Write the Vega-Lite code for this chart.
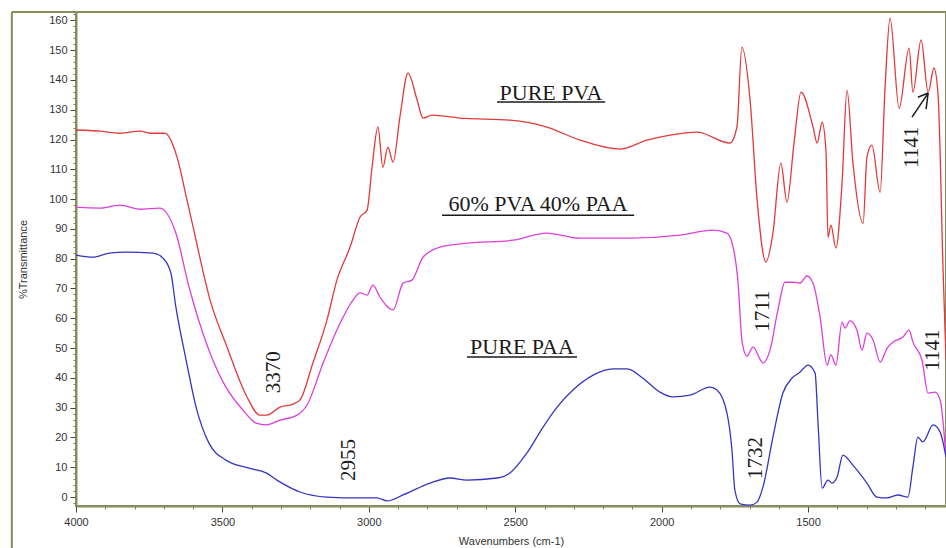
{
  "$schema": "https://vega.github.io/schema/vega-lite/v6.json",
  "width": 870,
  "height": 494,
  "autosize": "none",
  "padding": {"left": 76, "top": 12, "right": 0, "bottom": 42},
  "background": "white",
  "config": {
    "view": {"stroke": "#888c5e", "strokeWidth": 2},
    "axis": {"grid": false, "labelFont": "Liberation Sans", "titleFont": "Liberation Sans", "labelColor": "#333333", "titleColor": "#333333", "titleFontWeight": "normal", "labelFontSize": 11, "titleFontSize": 11, "domainColor": "#888c5e", "domainWidth": 2, "labelOverlap": false}
  },
  "datasets": {
    "spectra": [
      {"series": "PURE PVA", "wn": 4000, "T": 123.2}, {"series": "PURE PVA", "wn": 3918, "T": 122.8}, {"series": "PURE PVA", "wn": 3850, "T": 122.1}, {"series": "PURE PVA", "wn": 3781, "T": 122.8}, {"series": "PURE PVA", "wn": 3747, "T": 122.1}, {"series": "PURE PVA", "wn": 3696, "T": 122.1},
      {"series": "PURE PVA", "wn": 3655, "T": 114.1}, {"series": "PURE PVA", "wn": 3621, "T": 99.7}, {"series": "PURE PVA", "wn": 3600, "T": 90.6}, {"series": "PURE PVA", "wn": 3542, "T": 66.1}, {"series": "PURE PVA", "wn": 3484, "T": 50.3}, {"series": "PURE PVA", "wn": 3416, "T": 33.6},
      {"series": "PURE PVA", "wn": 3372, "T": 27.5}, {"series": "PURE PVA", "wn": 3348, "T": 27.5}, {"series": "PURE PVA", "wn": 3303, "T": 30.2}, {"series": "PURE PVA", "wn": 3259, "T": 31.2}, {"series": "PURE PVA", "wn": 3235, "T": 32.6}, {"series": "PURE PVA", "wn": 3191, "T": 45.0},
      {"series": "PURE PVA", "wn": 3143, "T": 59.4}, {"series": "PURE PVA", "wn": 3109, "T": 72.8}, {"series": "PURE PVA", "wn": 3064, "T": 83.9}, {"series": "PURE PVA", "wn": 3030, "T": 94.0}, {"series": "PURE PVA", "wn": 3006, "T": 96.3}, {"series": "PURE PVA", "wn": 2989, "T": 110.7},
      {"series": "PURE PVA", "wn": 2969, "T": 124.2}, {"series": "PURE PVA", "wn": 2952, "T": 110.7}, {"series": "PURE PVA", "wn": 2935, "T": 117.4}, {"series": "PURE PVA", "wn": 2917, "T": 112.4}, {"series": "PURE PVA", "wn": 2894, "T": 127.5}, {"series": "PURE PVA", "wn": 2866, "T": 142.3},
      {"series": "PURE PVA", "wn": 2835, "T": 133.2}, {"series": "PURE PVA", "wn": 2815, "T": 127.2}, {"series": "PURE PVA", "wn": 2784, "T": 128.2}, {"series": "PURE PVA", "wn": 2689, "T": 127.2}, {"series": "PURE PVA", "wn": 2518, "T": 126.5}, {"series": "PURE PVA", "wn": 2392, "T": 124.2},
      {"series": "PURE PVA", "wn": 2279, "T": 119.8}, {"series": "PURE PVA", "wn": 2142, "T": 116.8}, {"series": "PURE PVA", "wn": 2050, "T": 119.8}, {"series": "PURE PVA", "wn": 1971, "T": 121.5}, {"series": "PURE PVA", "wn": 1879, "T": 122.5}, {"series": "PURE PVA", "wn": 1767, "T": 118.8},
      {"series": "PURE PVA", "wn": 1743, "T": 124.2}, {"series": "PURE PVA", "wn": 1726, "T": 151.0}, {"series": "PURE PVA", "wn": 1698, "T": 133.2}, {"series": "PURE PVA", "wn": 1674, "T": 99.7}, {"series": "PURE PVA", "wn": 1644, "T": 78.9}, {"series": "PURE PVA", "wn": 1620, "T": 88.6},
      {"series": "PURE PVA", "wn": 1593, "T": 112.1}, {"series": "PURE PVA", "wn": 1572, "T": 99.0}, {"series": "PURE PVA", "wn": 1548, "T": 118.8}, {"series": "PURE PVA", "wn": 1524, "T": 135.9}, {"series": "PURE PVA", "wn": 1483, "T": 124.2}, {"series": "PURE PVA", "wn": 1469, "T": 118.8},
      {"series": "PURE PVA", "wn": 1452, "T": 125.8}, {"series": "PURE PVA", "wn": 1439, "T": 116.4}, {"series": "PURE PVA", "wn": 1432, "T": 87.2}, {"series": "PURE PVA", "wn": 1422, "T": 91.3}, {"series": "PURE PVA", "wn": 1405, "T": 83.6}, {"series": "PURE PVA", "wn": 1384, "T": 105.4},
      {"series": "PURE PVA", "wn": 1367, "T": 136.6}, {"series": "PURE PVA", "wn": 1347, "T": 112.4}, {"series": "PURE PVA", "wn": 1312, "T": 91.9}, {"series": "PURE PVA", "wn": 1299, "T": 114.1}, {"series": "PURE PVA", "wn": 1282, "T": 118.1}, {"series": "PURE PVA", "wn": 1254, "T": 102.3},
      {"series": "PURE PVA", "wn": 1237, "T": 137.6}, {"series": "PURE PVA", "wn": 1220, "T": 160.7}, {"series": "PURE PVA", "wn": 1189, "T": 130.5}, {"series": "PURE PVA", "wn": 1155, "T": 150.7}, {"series": "PURE PVA", "wn": 1142, "T": 135.9}, {"series": "PURE PVA", "wn": 1114, "T": 153.4},
      {"series": "PURE PVA", "wn": 1090, "T": 135.9}, {"series": "PURE PVA", "wn": 1070, "T": 144.0}, {"series": "PURE PVA", "wn": 1056, "T": 134.9}, {"series": "PURE PVA", "wn": 1039, "T": 76.2}, {"series": "PURE PVA", "wn": 1029, "T": 46.0},

      {"series": "60% PVA 40% PAA", "wn": 4000, "T": 97.3}, {"series": "60% PVA 40% PAA", "wn": 3918, "T": 97.0}, {"series": "60% PVA 40% PAA", "wn": 3850, "T": 98.0}, {"series": "60% PVA 40% PAA", "wn": 3781, "T": 96.6}, {"series": "60% PVA 40% PAA", "wn": 3713, "T": 97.0}, {"series": "60% PVA 40% PAA", "wn": 3699, "T": 96.3},
      {"series": "60% PVA 40% PAA", "wn": 3659, "T": 88.6}, {"series": "60% PVA 40% PAA", "wn": 3614, "T": 70.5}, {"series": "60% PVA 40% PAA", "wn": 3546, "T": 49.3}, {"series": "60% PVA 40% PAA", "wn": 3488, "T": 36.9}, {"series": "60% PVA 40% PAA", "wn": 3430, "T": 29.2}, {"series": "60% PVA 40% PAA", "wn": 3385, "T": 24.8},
      {"series": "60% PVA 40% PAA", "wn": 3351, "T": 24.2}, {"series": "60% PVA 40% PAA", "wn": 3303, "T": 25.8}, {"series": "60% PVA 40% PAA", "wn": 3245, "T": 27.5}, {"series": "60% PVA 40% PAA", "wn": 3211, "T": 30.9}, {"series": "60% PVA 40% PAA", "wn": 3156, "T": 45.0}, {"series": "60% PVA 40% PAA", "wn": 3098, "T": 58.4},
      {"series": "60% PVA 40% PAA", "wn": 3054, "T": 66.1}, {"series": "60% PVA 40% PAA", "wn": 3030, "T": 68.5}, {"series": "60% PVA 40% PAA", "wn": 3006, "T": 67.8}, {"series": "60% PVA 40% PAA", "wn": 2986, "T": 71.1}, {"series": "60% PVA 40% PAA", "wn": 2962, "T": 67.1}, {"series": "60% PVA 40% PAA", "wn": 2917, "T": 62.8},
      {"series": "60% PVA 40% PAA", "wn": 2883, "T": 71.8}, {"series": "60% PVA 40% PAA", "wn": 2853, "T": 72.8}, {"series": "60% PVA 40% PAA", "wn": 2815, "T": 80.5}, {"series": "60% PVA 40% PAA", "wn": 2757, "T": 83.9}, {"series": "60% PVA 40% PAA", "wn": 2665, "T": 85.2}, {"series": "60% PVA 40% PAA", "wn": 2508, "T": 86.2},
      {"series": "60% PVA 40% PAA", "wn": 2392, "T": 88.6}, {"series": "60% PVA 40% PAA", "wn": 2279, "T": 86.9}, {"series": "60% PVA 40% PAA", "wn": 2108, "T": 86.9}, {"series": "60% PVA 40% PAA", "wn": 1937, "T": 87.9}, {"series": "60% PVA 40% PAA", "wn": 1825, "T": 89.6}, {"series": "60% PVA 40% PAA", "wn": 1777, "T": 88.6},
      {"series": "60% PVA 40% PAA", "wn": 1756, "T": 83.9}, {"series": "60% PVA 40% PAA", "wn": 1739, "T": 71.8}, {"series": "60% PVA 40% PAA", "wn": 1726, "T": 52.7}, {"series": "60% PVA 40% PAA", "wn": 1709, "T": 47.3}, {"series": "60% PVA 40% PAA", "wn": 1688, "T": 50.3}, {"series": "60% PVA 40% PAA", "wn": 1654, "T": 45.0},
      {"series": "60% PVA 40% PAA", "wn": 1630, "T": 49.3}, {"series": "60% PVA 40% PAA", "wn": 1603, "T": 62.8}, {"series": "60% PVA 40% PAA", "wn": 1579, "T": 72.1}, {"series": "60% PVA 40% PAA", "wn": 1551, "T": 72.1}, {"series": "60% PVA 40% PAA", "wn": 1528, "T": 71.8}, {"series": "60% PVA 40% PAA", "wn": 1504, "T": 74.2},
      {"series": "60% PVA 40% PAA", "wn": 1483, "T": 71.8}, {"series": "60% PVA 40% PAA", "wn": 1459, "T": 60.4}, {"series": "60% PVA 40% PAA", "wn": 1435, "T": 44.3}, {"series": "60% PVA 40% PAA", "wn": 1422, "T": 47.7}, {"series": "60% PVA 40% PAA", "wn": 1405, "T": 44.3}, {"series": "60% PVA 40% PAA", "wn": 1384, "T": 58.7},
      {"series": "60% PVA 40% PAA", "wn": 1374, "T": 56.7}, {"series": "60% PVA 40% PAA", "wn": 1357, "T": 59.1}, {"series": "60% PVA 40% PAA", "wn": 1333, "T": 56.0}, {"series": "60% PVA 40% PAA", "wn": 1316, "T": 49.3}, {"series": "60% PVA 40% PAA", "wn": 1299, "T": 55.0}, {"series": "60% PVA 40% PAA", "wn": 1278, "T": 52.7},
      {"series": "60% PVA 40% PAA", "wn": 1254, "T": 45.3}, {"series": "60% PVA 40% PAA", "wn": 1230, "T": 50.0}, {"series": "60% PVA 40% PAA", "wn": 1210, "T": 52.0}, {"series": "60% PVA 40% PAA", "wn": 1176, "T": 53.7}, {"series": "60% PVA 40% PAA", "wn": 1155, "T": 56.0}, {"series": "60% PVA 40% PAA", "wn": 1142, "T": 52.0},
      {"series": "60% PVA 40% PAA", "wn": 1111, "T": 46.0}, {"series": "60% PVA 40% PAA", "wn": 1090, "T": 34.9}, {"series": "60% PVA 40% PAA", "wn": 1067, "T": 35.2}, {"series": "60% PVA 40% PAA", "wn": 1049, "T": 32.6}, {"series": "60% PVA 40% PAA", "wn": 1029, "T": 13.4},

      {"series": "PURE PAA", "wn": 4000, "T": 81.2}, {"series": "PURE PAA", "wn": 3942, "T": 80.5}, {"series": "PURE PAA", "wn": 3887, "T": 81.9}, {"series": "PURE PAA", "wn": 3829, "T": 82.2}, {"series": "PURE PAA", "wn": 3737, "T": 81.9}, {"series": "PURE PAA", "wn": 3703, "T": 80.2},
      {"series": "PURE PAA", "wn": 3676, "T": 75.2}, {"series": "PURE PAA", "wn": 3659, "T": 63.8}, {"series": "PURE PAA", "wn": 3624, "T": 46.0}, {"series": "PURE PAA", "wn": 3590, "T": 30.2}, {"series": "PURE PAA", "wn": 3546, "T": 18.1}, {"series": "PURE PAA", "wn": 3488, "T": 12.4},
      {"series": "PURE PAA", "wn": 3409, "T": 9.7}, {"series": "PURE PAA", "wn": 3351, "T": 8.1}, {"series": "PURE PAA", "wn": 3314, "T": 5.7}, {"series": "PURE PAA", "wn": 3235, "T": 1.7}, {"series": "PURE PAA", "wn": 3143, "T": 0.0}, {"series": "PURE PAA", "wn": 3030, "T": -0.3},
      {"series": "PURE PAA", "wn": 2972, "T": -0.3}, {"series": "PURE PAA", "wn": 2938, "T": -1.3}, {"series": "PURE PAA", "wn": 2883, "T": 0.7}, {"series": "PURE PAA", "wn": 2791, "T": 4.7}, {"series": "PURE PAA", "wn": 2723, "T": 6.4}, {"series": "PURE PAA", "wn": 2665, "T": 5.7},
      {"series": "PURE PAA", "wn": 2562, "T": 6.4}, {"series": "PURE PAA", "wn": 2518, "T": 8.1}, {"series": "PURE PAA", "wn": 2460, "T": 14.8}, {"series": "PURE PAA", "wn": 2405, "T": 23.5}, {"series": "PURE PAA", "wn": 2357, "T": 30.2}, {"series": "PURE PAA", "wn": 2303, "T": 35.9},
      {"series": "PURE PAA", "wn": 2234, "T": 40.9}, {"series": "PURE PAA", "wn": 2166, "T": 43.0}, {"series": "PURE PAA", "wn": 2118, "T": 43.0}, {"series": "PURE PAA", "wn": 2064, "T": 39.9}, {"series": "PURE PAA", "wn": 2006, "T": 35.2}, {"series": "PURE PAA", "wn": 1961, "T": 33.6},
      {"series": "PURE PAA", "wn": 1903, "T": 34.2}, {"series": "PURE PAA", "wn": 1835, "T": 36.9}, {"series": "PURE PAA", "wn": 1811, "T": 35.9}, {"series": "PURE PAA", "wn": 1777, "T": 28.2}, {"series": "PURE PAA", "wn": 1760, "T": 15.8}, {"series": "PURE PAA", "wn": 1750, "T": 2.3},
      {"series": "PURE PAA", "wn": 1732, "T": -2.3}, {"series": "PURE PAA", "wn": 1698, "T": -2.7}, {"series": "PURE PAA", "wn": 1674, "T": -1.7}, {"series": "PURE PAA", "wn": 1654, "T": 3.4}, {"series": "PURE PAA", "wn": 1620, "T": 20.1}, {"series": "PURE PAA", "wn": 1586, "T": 34.9},
      {"series": "PURE PAA", "wn": 1555, "T": 39.9}, {"series": "PURE PAA", "wn": 1528, "T": 41.9}, {"series": "PURE PAA", "wn": 1500, "T": 44.3}, {"series": "PURE PAA", "wn": 1476, "T": 41.6}, {"series": "PURE PAA", "wn": 1466, "T": 24.8}, {"series": "PURE PAA", "wn": 1452, "T": 3.0},
      {"series": "PURE PAA", "wn": 1432, "T": 5.7}, {"series": "PURE PAA", "wn": 1418, "T": 4.7}, {"series": "PURE PAA", "wn": 1401, "T": 6.7}, {"series": "PURE PAA", "wn": 1381, "T": 14.1}, {"series": "PURE PAA", "wn": 1347, "T": 10.7}, {"series": "PURE PAA", "wn": 1299, "T": 4.7},
      {"series": "PURE PAA", "wn": 1265, "T": 0.0}, {"series": "PURE PAA", "wn": 1230, "T": -0.3}, {"series": "PURE PAA", "wn": 1193, "T": 0.7}, {"series": "PURE PAA", "wn": 1159, "T": 0.0}, {"series": "PURE PAA", "wn": 1142, "T": 10.1}, {"series": "PURE PAA", "wn": 1125, "T": 20.1},
      {"series": "PURE PAA", "wn": 1108, "T": 18.5}, {"series": "PURE PAA", "wn": 1073, "T": 24.2}, {"series": "PURE PAA", "wn": 1049, "T": 21.8}, {"series": "PURE PAA", "wn": 1029, "T": 13.4}
    ],
    "titles": [
      {"label": "PURE PVA", "wn": 2378, "T": 135.7, "wn2": 2562, "wn3": 2193, "T2": 132.6},
      {"label": "60% PVA 40% PAA", "wn": 2422, "T": 98.3, "wn2": 2750, "wn3": 2094, "T2": 94.6},
      {"label": "PURE PAA", "wn": 2477, "T": 50.3, "wn2": 2665, "wn3": 2289, "T2": 47.0}
    ],
    "peaks": [
      {"label": "3370", "wn": 3324, "T": 41.9},
      {"label": "2955", "wn": 3068, "T": 12.4},
      {"label": "1711", "wn": 1654, "T": 62.4},
      {"label": "1732", "wn": 1678, "T": 13.1},
      {"label": "1141", "wn": 1145, "T": 117.4},
      {"label": "1141", "wn": 1073, "T": 49.3}
    ],
    "arrow": [
      {"wn": 1145, "T": 127.5, "wn2": 1090, "T2": 135.6},
      {"wn": 1125, "T": 134.2, "wn2": 1090, "T2": 135.6},
      {"wn": 1097, "T": 130.2, "wn2": 1090, "T2": 135.6}
    ],
    "border": [
      {"wn": 4219, "T": 162.8, "wn2": 4000, "T2": 162.8},
      {"wn": 4219, "T": 162.8, "wn2": 4219, "T2": -17.1}
    ]
  },
  "layer": [
    {
      "data": {"name": "spectra"},
      "mark": {"type": "line", "strokeWidth": 1.3, "clip": true, "interpolate": "monotone"},
      "encoding": {
        "x": {"field": "wn", "type": "quantitative", "scale": {"domain": [4000, 1029], "nice": false, "zero": false},
              "axis": {"orient": "bottom", "format": "d", "values": [4000, 3900, 3800, 3700, 3600, 3500, 3400, 3300, 3200, 3100, 3000, 2900, 2800, 2700, 2600, 2500, 2400, 2300, 2200, 2100, 2000, 1900, 1800, 1700, 1600, 1500, 1400, 1300, 1200, 1100],
                       "labelExpr": "datum.value % 500 === 0 ? datum.label : ''",
                       "labelOverlap": false,
                       "tickSize": {"condition": {"test": "datum.value % 500 === 0", "value": 6}, "value": 3},
                       "tickColor": {"condition": {"test": "datum.value % 500 === 0", "value": "#444444"}, "value": "#7a7e50"},
                       "title": "Wavenumbers (cm-1)", "labelPadding": 4, "titlePadding": 8, "labelFlush": false}},
        "y": {"field": "T", "type": "quantitative", "scale": {"domain": [-3, 162.8], "nice": false, "zero": false},
              "axis": {"orient": "left", "values": [-2, 0, 2, 4, 6, 8, 10, 12, 14, 16, 18, 20, 22, 24, 26, 28, 30, 32, 34, 36, 38, 40, 42, 44, 46, 48, 50, 52, 54, 56, 58, 60, 62, 64, 66, 68, 70, 72, 74, 76, 78, 80, 82, 84, 86, 88, 90, 92, 94, 96, 98, 100, 102, 104, 106, 108, 110, 112, 114, 116, 118, 120, 122, 124, 126, 128, 130, 132, 134, 136, 138, 140, 142, 144, 146, 148, 150, 152, 154, 156, 158, 160, 162],
                       "labelExpr": "datum.value % 10 === 0 ? datum.label : ''",
                       "labelOverlap": false,
                       "tickSize": {"condition": {"test": "datum.value % 10 === 0", "value": 6}, "value": 3},
                       "tickColor": {"condition": {"test": "datum.value % 10 === 0", "value": "#444444"}, "value": "#7a7e50"},
                       "title": "%Transmittance", "labelPadding": 3, "titlePadding": 20}},
        "color": {"field": "series", "type": "nominal", "scale": {"domain": ["PURE PVA", "60% PVA 40% PAA", "PURE PAA"], "range": ["#e03a3a", "#dc3fdc", "#3535c4"]}, "legend": null}
      }
    },
    {
      "data": {"name": "border"},
      "mark": {"type": "rule", "color": "#888c5e", "strokeWidth": 2},
      "encoding": {
        "x": {"field": "wn", "type": "quantitative", "axis": null},
        "x2": {"field": "wn2"},
        "y": {"field": "T", "type": "quantitative", "axis": null},
        "y2": {"field": "T2"}
      }
    },
    {
      "data": {"name": "titles"},
      "mark": {"type": "text", "font": "Liberation Serif", "fontSize": 22, "color": "#1a1a1a", "align": "center", "baseline": "middle"},
      "encoding": {
        "x": {"field": "wn", "type": "quantitative", "axis": null},
        "y": {"field": "T", "type": "quantitative", "axis": null},
        "text": {"field": "label"}
      }
    },
    {
      "data": {"name": "titles"},
      "mark": {"type": "rule", "color": "#1a1a1a", "strokeWidth": 1.5},
      "encoding": {
        "x": {"field": "wn2", "type": "quantitative", "axis": null},
        "x2": {"field": "wn3"},
        "y": {"field": "T2", "type": "quantitative", "axis": null}
      }
    },
    {
      "data": {"name": "peaks"},
      "mark": {"type": "text", "font": "Liberation Serif", "fontSize": 21, "color": "#1a1a1a", "align": "center", "baseline": "middle", "angle": 270},
      "encoding": {
        "x": {"field": "wn", "type": "quantitative", "axis": null},
        "y": {"field": "T", "type": "quantitative", "axis": null},
        "text": {"field": "label"}
      }
    },
    {
      "data": {"name": "arrow"},
      "mark": {"type": "rule", "color": "#1a1a1a", "strokeWidth": 1.5},
      "encoding": {
        "x": {"field": "wn", "type": "quantitative", "axis": null},
        "x2": {"field": "wn2"},
        "y": {"field": "T", "type": "quantitative", "axis": null},
        "y2": {"field": "T2"}
      }
    }
  ],
  "resolve": {"axis": {"x": "independent", "y": "independent"}}
}
